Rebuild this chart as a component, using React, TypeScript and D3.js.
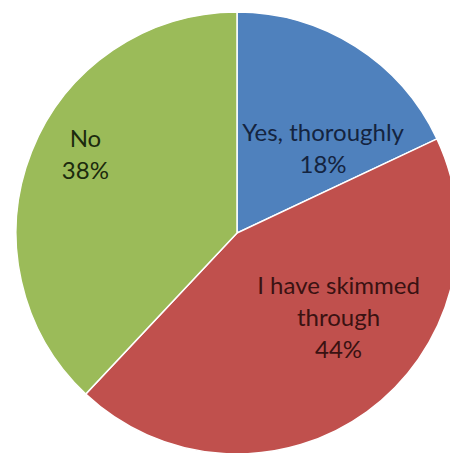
import React from "react";
import * as d3 from "d3";

const categories = ["Yes, thoroughly", "I have skimmed through", "No"];
const values = [18, 44, 38];
const labelLines = [["Yes, thoroughly", "18%"], ["I have skimmed", "through", "44%"], ["No", "38%"]];
const colors = ["#4F81BD", "#C0504D", "#9BBB59"];
const textColors = ["#142440", "#3a1212", "#1c2a0e"];

const W = 450;
const H = 453;
const cx = 237;
const cy = 233;
const R = 221;
// label anchor (polar from centre: angle in degrees clockwise from top, radius fraction)
const labelPolar = [
  { a: 45.6, r: 0.545 },
  { a: 130, r: 0.6 },
  { a: 297.3, r: 0.772 },
];
const fontSize = 24;
const lineH = 32;

export default function App() {
  const pie = d3.pie<number>().value((d) => d).sort(null);
  const arcs = pie(values);
  const arc = d3.arc<d3.PieArcDatum<number>>().innerRadius(0).outerRadius(R);
  return (
    <svg
      width={W}
      height={H}
      style={{ position: "absolute", left: 0, top: 0, background: "#fff" }}
    >
      <g transform={`translate(${cx},${cy})`}>
        {arcs.map((a, i) => (
          <path key={categories[i]} d={arc(a) || ""} fill={colors[i]} stroke="#fff" strokeWidth={1.5} />
        ))}
        {arcs.map((a, i) => {
          const p = labelPolar[i];
          const ang = (p.a * Math.PI) / 180;
          const x = Math.sin(ang) * p.r * R;
          const y = -Math.cos(ang) * p.r * R;
          const lines = labelLines[i];
          const y0 = y - ((lines.length - 1) * lineH) / 2;
          return (
            <text
              key={"l" + i}
              textAnchor="middle"
              fontFamily="Lato, 'Open Sans', sans-serif"
              fontSize={fontSize}
              fill={textColors[i]}
            >
              {lines.map((ln, j) => (
                <tspan key={j} x={x} y={y0 + j * lineH + fontSize * 0.33}>
                  {ln}
                </tspan>
              ))}
            </text>
          );
        })}
      </g>
    </svg>
  );
}
